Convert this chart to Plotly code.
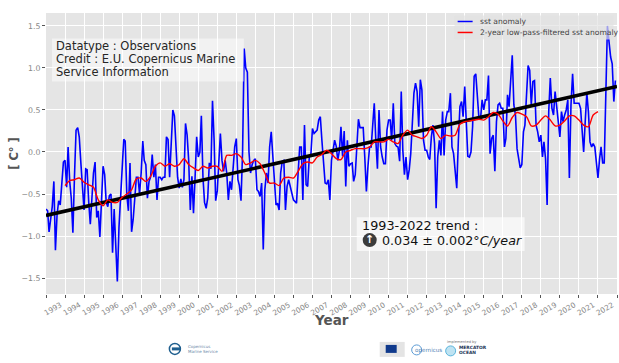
import pandas as pd
import plotly.graph_objects as go

sst_anomaly = [
 -.68,-.70,-.95,-.82,-.65,-.35,-1.17,-.75,-.58,-.63,-.30,-.12,
 -.10,-.42,.06,-.35,-.55,-.96,-.30,.26,.29,.18,-.13,-.40,
 -.69,-.20,-.21,-.60,-.86,-.55,-.25,-.12,-.78,-.70,-1.01,-.60,
 -.17,-.27,-.60,-.65,-.52,-.50,-1.20,-.68,-1.20,-1.54,-.90,-.55,
 -.30,.15,.13,-.51,-.70,-.13,-.95,-.80,-.55,-.30,-.30,-.50,
 -.25,.13,-.10,-.15,-.55,-.35,-.30,-.03,-.30,-.15,-.57,-.30,
 -.30,-.33,-.30,-.30,.18,.15,-.30,.20,.50,.43,-.05,-.30,
 -.43,-.32,-.42,-.33,.34,.20,-.10,-.69,-.29,-.73,-.30,.18,
 -.06,.00,.43,-.30,-.60,-.67,-.55,-.13,-.20,.61,.14,-.58,
 -.46,.00,.22,-.10,-.23,-.10,-.25,-.57,-.35,-.45,-.13,.06,
 .16,-.33,-.40,-.58,.00,1.23,1.00,.95,.00,-.25,-.15,-.10,
 -.08,-.45,-.47,-.53,-.37,-1.16,-.45,-.25,-.37,.06,.24,-.02,
 -.25,-.63,-.61,-.69,-.25,-.11,-.10,-.69,-.41,-.33,-.41,-.50,
 -.57,-.59,-.61,-.25,.06,.06,-.57,.32,-.39,-.41,-.06,-.04,
 .28,.22,.24,.26,.38,.42,.14,-.13,-.37,-.38,-.33,-.57,
 -.10,.02,.14,.07,-.10,.02,.30,-.05,.25,-.41,.14,-.17,
 -.14,-.13,-.35,-.27,.14,.39,.29,.29,.29,-.06,-.47,-.17,
 .06,.06,.30,.58,.14,-.20,.50,.06,-.06,-.14,-.14,.26,
 .38,.38,.14,.58,.10,.07,.06,-.11,.72,.02,-.27,-.06,
 -.33,-.21,-.02,.34,.70,.82,.72,.30,.86,.74,.14,.02,
 .02,-.06,-.09,.18,.32,.10,-.67,-.06,.14,-.04,.48,-.04,
 .38,.48,.48,.70,.06,-.02,-.25,-.43,.14,.54,.60,.42,
 .78,.30,-.05,-.06,.00,.30,.90,.93,.60,.40,.40,.62,
 .50,.62,.62,.91,-.02,.16,.20,-.23,.36,.56,.58,.52,
 .52,.06,.16,.68,.54,.84,1.15,.56,.44,.04,-.11,-.19,
 -.15,.24,.32,.76,1.03,.97,.56,.84,.85,.32,.24,.12,
 .20,-.06,.12,-.08,-.63,.48,.88,.52,.44,.72,.52,.36,
 .18,.48,.36,.44,.50,.62,-.31,.56,.93,.58,.58,.58,
 .58,.52,.28,.00,.36,.70,.48,.12,.06,.10,.06,-.11,
 -.31,-.08,.06,-.13,-.13,.70,1.50,1.31,1.13,1.05,.60,.85,
]

low_pass_quarterly = [
 -.40,-.34,-.33,-.31,
 -.36,-.39,-.42,-.57,
 -.64,-.57,-.60,-.60,
 -.54,-.50,-.45,-.32,
 -.31,-.35,-.29,-.17,
 -.13,-.17,-.14,-.17,
 -.15,-.08,-.15,-.19,
 -.22,-.17,-.19,-.17,
 -.17,-.23,-.04,-.04,
 -.02,-.06,-.15,-.13,
 -.10,-.14,-.25,-.37,
 -.37,-.40,-.31,-.30,
 -.31,-.23,-.14,-.12,
 -.13,-.06,-.03,.02,
 -.02,-.08,-.09,.00,
 .02,.04,.04,.04,
 .06,.12,.12,.12,
 .15,.12,.10,.20,
 .26,.20,.18,.16,
 .20,.30,.24,.16,
 .20,.19,.20,.33,
 .36,.37,.38,.39,
 .38,.42,.47,.45,
 .37,.31,.41,.47,
 .45,.42,.31,.32,
 .38,.43,.38,.31,
 .32,.37,.43,.43,
 .38,.32,.30,.44,
 .48,
]

trend_dates = ["1993-01-01", "2023-01-01"]
trend_values = [-.755, .78]
y_ticks = [-1.5, -1.0, -0.5, 0.0, 0.5, 1.0, 1.5]

monthly_dates = pd.date_range("1993-01-01", periods=len(sst_anomaly), freq="MS")
quarterly_dates = pd.date_range("1994-01-01", periods=len(low_pass_quarterly), freq="QS")

L, R, T, B = 46, 617.5, 12.5, 294
def px(x): return (x - L) / (R - L)
def py(y): return (B - y) / (B - T)

FONT = "DejaVu Sans"
GRAY = "#555555"

fig = go.Figure()
fig.add_trace(go.Scatter(x=monthly_dates, y=sst_anomaly, mode="lines", name="sst anomaly", showlegend=False,
                         line=dict(color="#0000ff", width=1.6)))
fig.add_trace(go.Scatter(x=trend_dates, y=trend_values, mode="lines", showlegend=False,
                         line=dict(color="#000000", width=3.6)))
fig.add_trace(go.Scatter(x=quarterly_dates, y=low_pass_quarterly, mode="lines", showlegend=False,
                         name="2-year low-pass-filtered sst anomaly",
                         line=dict(color="#ff0000", width=1.4, shape="spline", smoothing=0.8)))

def rect(x0, y0, x1, y1, fill):
    return dict(type="rect", xref="paper", yref="paper", x0=px(x0), x1=px(x1), y0=py(y0), y1=py(y1),
                fillcolor=fill, line=dict(width=0), layer="above")
def circ(cx, cy, r, fill, line="rgba(0,0,0,0)", lw=0):
    return dict(type="circle", xref="paper", yref="paper", x0=px(cx - r), x1=px(cx + r),
                y0=py(cy - r), y1=py(cy + r), fillcolor=fill, line=dict(width=lw, color=line), layer="above")
def seg(x0, x1, y, color):
    return dict(type="line", xref="paper", yref="paper", x0=px(x0), x1=px(x1), y0=py(y), y1=py(y),
                line=dict(color=color, width=1.5), layer="above")
def txt(x, y, s, size, color="#262626", anchor="left", **kw):
    return dict(xref="paper", yref="paper", x=px(x), y=py(y), text=s, showarrow=False, xanchor=anchor,
                yanchor="middle", font=dict(family=FONT, size=size, color=color), borderpad=0, **kw)

shapes = [
    rect(52, 38, 244, 81, "rgba(255,255,255,0.5)"),
    rect(357, 217, 525, 251, "rgba(255,255,255,0.65)"),
    circ(370, 240, 7, "#3c3c3c"),
    # legend
    rect(455, 15, 614, 39, "rgba(226,226,226,0.7)"),
    seg(458, 473, 21, "#0000ff"),
    seg(458, 473, 32, "#ff0000"),
    # footer logos
    circ(175, 349, 5.5, "rgba(0,0,0,0)", "#1f5f8f", 1.5),
    rect(172, 347.5, 181, 350.5, "#1f5f8f"),
    rect(380, 342, 405, 357, "#e4e4e4"),
    rect(386, 345, 397, 353, "#103a8c"),
    circ(417, 350, 5, "rgba(0,0,0,0)", "#5b9bd5", 1),
    circ(451, 351, 5, "#bfe3f2", "#5bb5dc", 1),
]
annotations = [
    txt(331.5, 320, "<b>Year</b>", 13.5, "#555555", anchor="center"),
    txt(479, 21, "sst anomaly", 7.6, "#444444"),
    txt(479, 32, "2-year low-pass-filtered sst anomaly", 7.6, "#444444"),
    txt(55, 46, "Datatype : Observations", 11.5),
    txt(55, 59, "Credit : E.U. Copernicus Marine", 11.5),
    txt(55, 72, "Service Information", 11.5),
    txt(361, 225, "1993-2022 trend :", 12.8, "#111111"),
    txt(370, 239.5, "<b>↑</b>", 11, "#ffffff", anchor="center"),
    txt(381, 240, "0.034 ± 0.002°<i>C/year</i>", 12.7, "#111111"),
    txt(187, 347, "Copernicus", 4, "#6b87a8"),
    txt(187, 352, "Marine Service", 4, "#6b87a8"),
    txt(414, 351, "opernicus", 5.6, "#4f7fb5"),
    txt(446, 342, "Implemented by", 3.6, "#777777"),
    txt(458, 348, "<b>MERCATOR</b>", 4.4, "#1d3557"),
    txt(458, 352.5, "<b>OCEAN</b>", 4.4, "#1d3557"),
]

fig.update_layout(
    width=619, height=363, autosize=False,
    margin=dict(l=L, r=619 - R, t=T, b=363 - B, pad=0),
    paper_bgcolor="#ffffff", plot_bgcolor="#e5e5e5",
    font=dict(family=FONT, color=GRAY),
    showlegend=False,
    shapes=shapes, annotations=annotations,
    xaxis=dict(type="date", range=["1993-01-01", "2023-01-01"], tick0="1993-01-01", dtick="M12",
               ticklabelmode="period", tickformat="%Y", tickangle=-30, ticks="outside", ticklen=3,
               tickwidth=1, tickcolor=GRAY, showgrid=True, gridcolor="#ffffff", gridwidth=1.1,
               zeroline=False, showline=False, ticklabelshift=5,
               tickfont=dict(family=FONT, size=7.4, color="#888888")),
    yaxis=dict(range=[-1.69, 1.654], tickvals=y_ticks, tickformat=".1f", ticks="outside", ticklen=3,
               tickwidth=1, tickcolor=GRAY, showgrid=True, gridcolor="#ffffff", gridwidth=1.1,
               zeroline=False, showline=False,
               tickfont=dict(family=FONT, size=7.8, color="#888888"),
               title=dict(text="<b>[ C° ]</b>", font=dict(family=FONT, size=11.5, color="#555555"), standoff=0)),
)

fig.write_html("out.html", config=dict(displayModeBar=False),
               post_script="document.body.style.margin='0';document.body.style.overflow='hidden';")
